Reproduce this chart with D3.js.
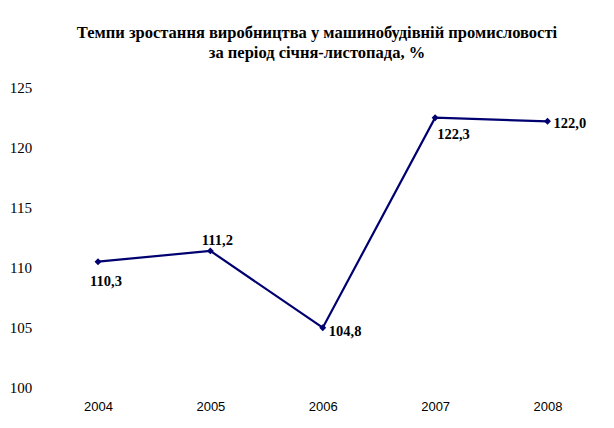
<!DOCTYPE html>
<html><head><meta charset="utf-8">
<script src="https://cdn.jsdelivr.net/npm/d3@7"></script>
<style>body{margin:0;background:#fff}
.serif{font-family:'Liberation Serif';}
.sans{font-family:'Liberation Sans';}
</style>
</head><body>
<script>
const years = ["2004","2005","2006","2007","2008"];
const values = [110.3, 111.2, 104.8, 122.3, 122.0];
const labels = ["110,3","111,2","104,8","122,3","122,0"];
const yTicks = [100,105,110,115,120,125];
const titleLines = ["Темпи зростання виробництва у машинобудівній промисловості","за період січня-листопада, %"];
// label placement: [dx, dy, anchor]
const labelPos = [[8,24,"middle"],[7,-6,"middle"],[6,8,"start"],[2,21,"start"],[6,7,"start"]];

const W=614,H=428;
const svg=d3.select("body").append("svg").attr("width",W).attr("height",H);
const x=d3.scalePoint().domain(years).range([98,547.5]);
const y=d3.scaleLinear().domain([100,125]).range([385.3,85.3]);

svg.append("g").selectAll("text").data(titleLines).join("text")
  .attr("class","serif")
  .attr("x",317).attr("y",(d,i)=>38+i*20).attr("text-anchor","middle")
  .attr("font-weight","bold").attr("font-size",16.5)
  .text(d=>d);

const ya=svg.append("g").attr("transform","translate(32,2)")
  .call(d3.axisLeft(y).tickValues(yTicks).tickSize(0).tickPadding(0).tickFormat(d3.format("d")));
ya.select(".domain").remove();
ya.attr("font-family",null).attr("font-size",null);
ya.selectAll("text").attr("class","serif").attr("font-size",15).attr("fill","#000").attr("text-anchor","middle").attr("x",-11);

const xa=svg.append("g").attr("transform","translate(0,402)")
  .call(d3.axisBottom(x).tickSize(0).tickPadding(0));
xa.select(".domain").remove();
xa.attr("font-family",null).attr("font-size",null);
xa.selectAll("text").attr("class","sans").attr("font-size",13).attr("fill","#000");

const pts=years.map((yr,i)=>({yr,v:values[i],l:labels[i],p:labelPos[i]}));
svg.append("path").datum(pts).attr("fill","none").attr("stroke","#000070").attr("stroke-width",2.2)
  .attr("d",d3.line().x(d=>x(d.yr)).y(d=>y(d.v)));
svg.append("g").selectAll("path").data(pts).join("path")
  .attr("transform",d=>`translate(${x(d.yr)},${y(d.v)}) rotate(45)`)
  .attr("d",d3.symbol(d3.symbolSquare,24)).attr("fill","#000070");
svg.append("g").selectAll("text").data(pts).join("text")
  .attr("class","serif")
  .attr("x",d=>x(d.yr)+d.p[0]).attr("y",d=>y(d.v)+d.p[1]).attr("text-anchor",d=>d.p[2])
  .attr("font-weight","bold").attr("font-size",14.5)
  .text(d=>d.l);
</script>
</body></html>
